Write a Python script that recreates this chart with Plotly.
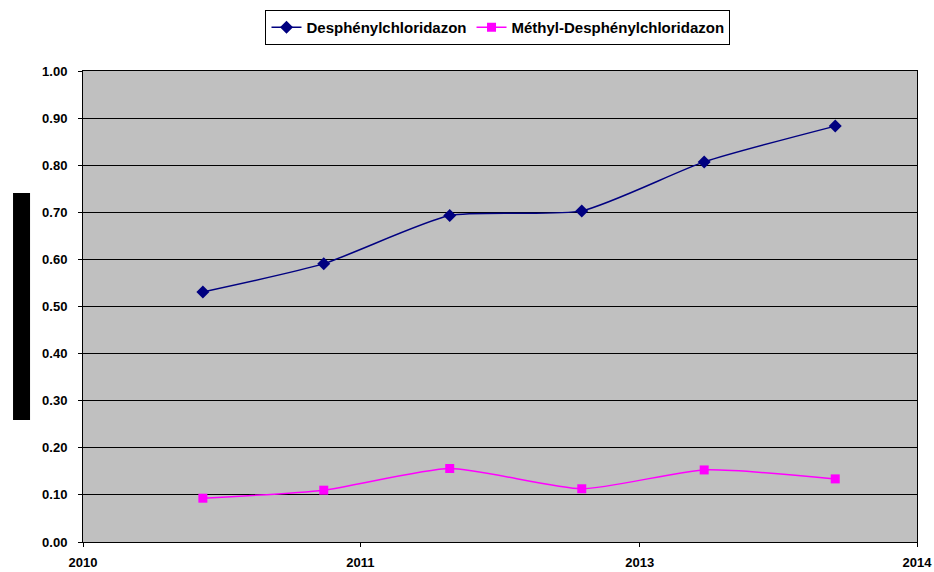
import plotly.graph_objects as go

dates = ["2010-08-25", "2011-04-20", "2011-12-24", "2012-09-09", "2013-05-08", "2014-01-21"]
desphenyl = [0.531, 0.591, 0.693, 0.703, 0.807, 0.883]
methyl_desphenyl = [0.093, 0.110, 0.156, 0.113, 0.153, 0.134]

tick_dates = ["2010-01-01", "2011-07-01", "2013-01-01", "2014-07-01"]
tick_labels = ["2010", "2011", "2013", "2014"]
y_ticks = [0.0, 0.1, 0.2, 0.3, 0.4, 0.5, 0.6, 0.7, 0.8, 0.9, 1.0]

fig = go.Figure()
fig.add_trace(go.Scatter(
    x=dates, y=desphenyl, name="Desphénylchloridazon",
    mode="lines+markers",
    line=dict(color="#000080", width=1.5, shape="spline", smoothing=0.6),
    marker=dict(symbol="diamond", size=10, color="#000080"),
))
fig.add_trace(go.Scatter(
    x=dates, y=methyl_desphenyl, name="Méthyl-Desphénylchloridazon",
    mode="lines+markers",
    line=dict(color="#FF00FF", width=1.5, shape="spline", smoothing=0.6),
    marker=dict(symbol="square", size=9, color="#FF00FF"),
))

font_family = "Liberation Sans, Arial, sans-serif"

fig.update_layout(
    width=934, height=572,
    margin=dict(l=83, r=17, t=71, b=30, autoexpand=False),
    paper_bgcolor="white",
    plot_bgcolor="#C0C0C0",
    font=dict(family=font_family, size=13, color="black"),
    showlegend=True,
    legend=dict(
        orientation="h",
        x=0.4976, xanchor="center",
        y=1.1295, yanchor="top",
        bgcolor="white",
        bordercolor="black", borderwidth=1,
        font=dict(family=font_family, size=15, color="black", weight="bold"),
        tracegroupgap=0,
    ),
    xaxis=dict(
        type="date",
        range=["2010-01-01", "2014-07-01"],
        tickvals=tick_dates, ticktext=tick_labels,
        ticks="outside", ticklen=4, tickcolor="black",
        showgrid=False, zeroline=False,
        showline=True, linecolor="black", linewidth=1, mirror=True,
        tickfont=dict(family=font_family, size=13, weight="bold"),
        automargin=False,
        ticklabelstandoff=4,
    ),
    yaxis=dict(
        range=[0, 1.0],
        tickvals=y_ticks, tickformat=".2f",
        ticks="outside", ticklen=4, tickcolor="black",
        showgrid=True, gridcolor="black", gridwidth=1,
        zeroline=False,
        showline=True, linecolor="black", linewidth=1, mirror=True,
        tickfont=dict(family=font_family, size=13, weight="bold"),
        automargin=False,
        ticklabelstandoff=8,
    ),
    shapes=[dict(
        type="rect", xref="paper", yref="paper",
        x0=-0.0839, x1=-0.0635, y0=0.259, y1=0.741,
        fillcolor="black", line=dict(width=0),
    )],
)

fig.write_html(
    "out.html",
    config={"displayModeBar": False},
    post_script="document.body.style.margin='0';document.body.style.padding='0';document.body.style.overflow='hidden';",
)
